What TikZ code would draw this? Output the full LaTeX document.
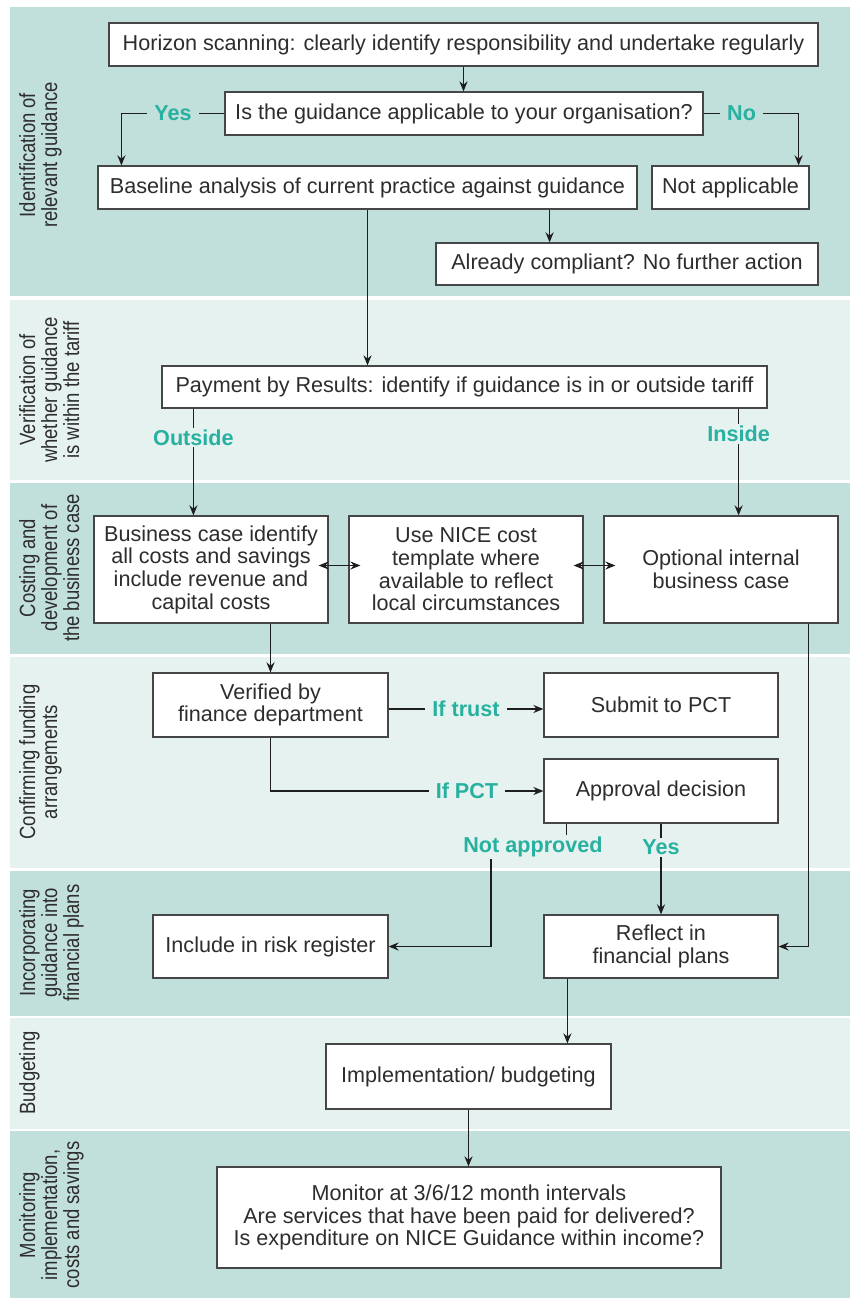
\documentclass[tikz,border=0pt]{standalone}
\usepackage{fontspec}
\setmainfont{Liberation Sans}
\newfontfamily\phasefont[FakeStretch=0.84]{Liberation Sans}
\usetikzlibrary{arrows.meta,positioning,calc}
\definecolor{colorbanddark}{RGB}{194,224,219}
\definecolor{colorbandlight}{RGB}{229,242,239}
\definecolor{colorchoice}{RGB}{40,176,160}
\definecolor{colorbox}{RGB}{70,70,70}
\definecolor{colortext}{RGB}{45,45,45}
\definecolor{colorline}{RGB}{30,30,30}
\tikzstyle{every node}=[font=\fontsize{21.6}{22.7}\selectfont, text=colortext]
\tikzstyle{block}=[rectangle, draw=colorbox, line width=1.2pt, fill=white, align=center, inner sep=0pt]
\tikzstyle{phase}=[font=\phasefont\fontsize{22}{22}\selectfont, rotate=90, anchor=north, align=center, inner sep=0pt]
\tikzstyle{choice}=[font=\fontsize{21.6}{22.7}\selectfont\bfseries, text=colorchoice, inner xsep=7pt, inner ysep=2pt]
\tikzstyle{flow}=[draw=colorline, line width=1.7pt]

\begin{document}
\begin{tikzpicture}[x=1pt, y=-1pt, >={Stealth[length=10pt, width=8pt]}]

		\useasboundingbox (0, 0) rectangle (850, 1298);
		\fill[white] (0, 0) rectangle (850, 1298);

		% bands
		\fill[colorbanddark] (10, 7) rectangle (850, 296);
		\fill[colorbandlight] (10, 300) rectangle (850, 480);
		\fill[colorbanddark] (10, 483) rectangle (850, 654);
		\fill[colorbandlight] (10, 657) rectangle (850, 868);
		\fill[colorbanddark] (10, 871) rectangle (850, 1016);
		\fill[colorbandlight] (10, 1018) rectangle (850, 1129);
		\fill[colorbanddark] (10, 1131) rectangle (850, 1298);

		\node[phase] at (19, 155) (ph1) {Identification of\\relevant guidance};
		\node[phase] at (19, 390) (ph2) {Verification of\\whether guidance\\is within the tariff};
		\node[phase] at (19, 568) (ph3) {Costing and\\development of\\the business case};
		\node[phase] at (19, 762) (ph4) {Confirming funding\\arrangements};
		\node[phase] at (19, 943) (ph5) {Incorporating\\guidance into\\financial plans};
		\node[phase] at (19, 1073) (ph6) {Budgeting};
		\node[phase] at (19, 1215) (ph7) {Monitoring\\implementation,\\costs and savings};

		% boxes
		\node[block, minimum width=709pt, minimum height=43pt] at (463.5, 44.5) (horizon) {Horizon scanning: clearly identify responsibility and undertake regularly};

		\node[block, minimum width=478pt, minimum height=43pt] at (464, 113.5) (question) {Is the guidance applicable to your organisation?};

		\node[block, minimum width=539pt, minimum height=43pt] at (367.5, 187.5) (baseline) {Baseline analysis of current practice against guidance};

		\node[block, minimum width=157pt, minimum height=43pt] at (730.5, 187.5) (notapp) {Not applicable};

		\node[block, minimum width=382pt, minimum height=42pt] at (627, 264) (compliant) {Already compliant? No further action};

		\node[block, minimum width=605pt, minimum height=42pt] at (464.5, 387) (payment) {Payment by Results: identify if guidance is in or outside tariff};

		\node[block, minimum width=234pt, minimum height=107pt] at (211, 569.5) (bizcase) {Business case identify\\all costs and savings\\include revenue and\\capital costs};

		\node[block, minimum width=234pt, minimum height=107pt] at (466, 569.5) (nicecost) {Use NICE cost\\template where\\available to reflect\\local circumstances};

		\node[block, minimum width=234pt, minimum height=107pt] at (721, 569.5) (optional) {Optional internal\\business case};

		\node[block, minimum width=235pt, minimum height=64pt] at (270.5, 705) (verified) {Verified by\\finance department};

		\node[block, minimum width=234pt, minimum height=64pt] at (661, 705) (submit) {Submit to PCT};

		\node[block, minimum width=234pt, minimum height=64pt] at (661, 791) (approval) {Approval decision};

		\node[block, minimum width=235pt, minimum height=63pt] at (270.5, 946.5) (risk) {Include in risk register};

		\node[block, minimum width=234pt, minimum height=63pt] at (661, 946.5) (reflect) {Reflect in\\financial plans};

		\node[block, minimum width=285pt, minimum height=65pt] at (468.5, 1076.5) (impl) {Implementation/ budgeting};

		\node[block, minimum width=504pt, minimum height=101pt] at (469, 1217.5) (monitor) {Monitor at 3/6/12 month intervals\\Are services that have been paid for delivered?\\Is expenditure on NICE Guidance within income?};

		% connectors
		\draw[flow, ->] (horizon.south) -- (horizon.south |- question.north);
		\draw[flow, ->] (question.west) -| node[choice, pos=0.25, fill=colorbanddark] (yes1) {Yes} ($(baseline.north west)+(24, 0)$);
		\draw[flow, ->] (question.east) -| node[choice, pos=0.2, fill=colorbanddark] (no1) {No} ($(notapp.north east)+(-11, 0)$);

		\coordinate (bc) at ($(baseline.south east)+(-88, 0)$);
		\draw[flow, ->] (bc) -- (bc |- compliant.north);
		\draw[flow, ->] (baseline.south) -- (baseline.south |- payment.north);

		\coordinate (outs) at ($(payment.south west)+(32, 0)$);
		\draw[flow, ->] (outs) -- node[choice, pos=0.27, fill=colorbandlight] (outside) {Outside} (outs |- bizcase.north);
		\coordinate (ins) at ($(payment.south east)+(-29, 0)$);
		\draw[flow, ->] (ins) -- node[choice, pos=0.24, fill=colorbandlight] (inside) {Inside} (ins |- optional.north);

		\draw[flow, <->, shorten <=-10pt, shorten >=-12pt] ([yshift=4pt]bizcase.east) -- ([yshift=4pt]nicecost.west);
		\draw[flow, <->, shorten <=-10pt, shorten >=-12pt] ([yshift=4pt]nicecost.east) -- ([yshift=4pt]optional.west);

		\draw[flow, ->] (bizcase.south -| verified.north) -- (verified.north);
		\draw[flow, ->] ([yshift=-4pt]verified.east) -- node[choice, fill=colorbandlight] (iftrust) {If trust} ([yshift=-4pt]submit.west);
		\draw[flow, ->] (verified.south) |- node[choice, pos=0.86, fill=colorbandlight] (ifpct) {If PCT} (approval.west);

		\draw[flow] ($(approval.south west)+(23, 0)$) -- ++(0, 11);
		\node[choice] at (533, 847) (notok) {Not approved};
		\coordinate (naturn) at (491, 859);
		\draw[flow, ->] (naturn) |- (risk.east);
		\draw[flow, ->] (approval.south) -- node[choice, pos=0.26, fill=colorbandlight] (yes2) {Yes} (reflect.north);

		\draw[flow, ->] ($(optional.south east)+(-30, 0)$) |- (reflect.east);
		\coordinate (rf) at ($(reflect.south west)+(24, 0)$);
		\draw[flow, ->] (rf) -- (rf |- impl.north);
		\draw[flow, ->] (impl.south) -- (impl.south |- monitor.north);

\end{tikzpicture}
\end{document}
